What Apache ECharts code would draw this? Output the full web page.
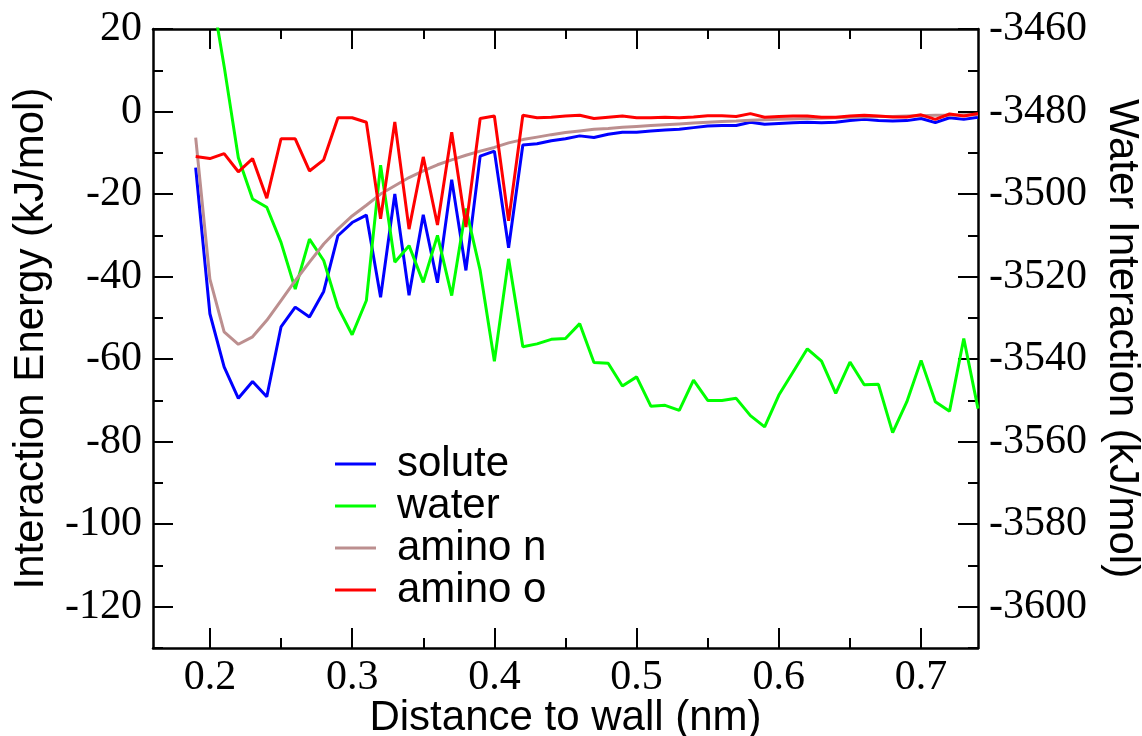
<!DOCTYPE html>
<html>
<head>
<meta charset="utf-8">
<script src="https://cdn.jsdelivr.net/npm/echarts@6/dist/echarts.min.js"></script>
<style>html,body{margin:0;padding:0;background:#fff;}#c{width:1142px;height:736px;}</style>
</head>
<body>
<div id="c"></div>
<script>
const distance = [0.19,0.20,0.21,0.22,0.23,0.24,0.25,0.26,0.27,0.28,0.29,0.30,0.31,0.32,0.33,0.34,0.35,0.36,0.37,0.38,0.39,0.40,0.41,0.42,0.43,0.44,0.45,0.46,0.47,0.48,0.49,0.50,0.51,0.52,0.53,0.54,0.55,0.56,0.57,0.58,0.59,0.60,0.61,0.62,0.63,0.64,0.65,0.66,0.67,0.68,0.69,0.70,0.71,0.72,0.73,0.74];
const solute = [-13.6,-49,-61.9,-69.5,-65.4,-69.1,-52.2,-47.4,-49.8,-43.6,-30.1,-26.9,-25.1,-45,-20,-44.5,-25,-41.5,-16.5,-38.5,-10.8,-9.6,-33,-8.1,-7.8,-7.1,-6.6,-5.9,-6.3,-5.5,-5.0,-5.0,-4.7,-4.5,-4.3,-3.9,-3.5,-3.4,-3.4,-2.6,-3.1,-2.9,-2.7,-2.6,-2.7,-2.6,-2.2,-1.9,-2.2,-2.3,-2.2,-1.7,-2.7,-1.5,-1.9,-1.4];
const water = [-3405,-3448.5,-3469,-3491.2,-3501.2,-3503.2,-3511.7,-3523,-3510.9,-3516.1,-3527.4,-3534.1,-3525.8,-3493,-3516.5,-3512.5,-3521.4,-3510,-3524.6,-3503.5,-3518.5,-3540.5,-3515.7,-3537,-3536.3,-3535.2,-3535,-3531.4,-3540.8,-3541,-3546.5,-3544.3,-3551.4,-3551.2,-3552.4,-3545.1,-3550,-3550,-3549.5,-3553.7,-3556.4,-3548.7,-3543.1,-3537.5,-3540.5,-3548.3,-3540.7,-3546.2,-3546.1,-3557.8,-3550.3,-3540.3,-3550.3,-3552.6,-3535,-3552];
const aminoN = [-6.3,-40.6,-53.4,-56.4,-54.6,-50.6,-45.8,-41.0,-36.5,-32.1,-28.5,-25.3,-22.7,-20,-18,-16,-14.4,-12.9,-11.7,-10.6,-9.6,-8.7,-7.6,-6.8,-6.2,-5.6,-5.1,-4.7,-4.3,-4.1,-3.8,-3.6,-3.4,-3.2,-3.0,-2.8,-2.6,-2.4,-2.3,-2.1,-2.0,-1.9,-1.8,-1.7,-1.6,-1.5,-1.4,-1.3,-1.2,-1.2,-1.1,-1.0,-0.9,-0.9,-0.8,-0.8];
const aminoO = [-10.9,-11.4,-10.2,-14.6,-11.4,-21,-6.6,-6.6,-14.4,-11.7,-1.5,-1.5,-2.6,-26,-2.5,-28.5,-11,-27.5,-5,-28,-1.7,-1.1,-26.5,-0.9,-1.5,-1.4,-1.1,-0.9,-1.7,-1.4,-1.1,-1.5,-1.5,-1.4,-1.5,-1.3,-1.0,-1.0,-1.2,-0.5,-1.4,-1.2,-1.1,-1.1,-1.4,-1.4,-1.1,-0.9,-1.1,-1.3,-1.3,-0.8,-1.9,-0.6,-1.1,-0.5];

const xMajor = [0.2,0.3,0.4,0.5,0.6,0.7];
const xMinor = [0.25,0.35,0.45,0.55,0.65];
const yLeftMajor = [-120,-100,-80,-60,-40,-20,0,20];
const yLeftMinor = [-130,-110,-90,-70,-50,-30,-10,10];
const yRightMajor = [-3600,-3580,-3560,-3540,-3520,-3500,-3480,-3460];
const yRightMinor = [-3610,-3590,-3570,-3550,-3530,-3510,-3490,-3470];

const names = ['solute','water','amino n','amino o'];
const colors = ['#0000ff','#00ff00','#bc8f8f','#ff0000'];

const serif = "'Liberation Serif', 'Times New Roman', serif";
const sans = "'Liberation Sans', Arial, sans-serif";
const lineStyle = {color:'#000', width:2.5};
const fmt = v => String(v);

function xAx(pos, ticks, len, showLine, labels, extra){
  return Object.assign({
    type:'value', position:pos, min:0.16, max:0.74,
    axisLine:{show:showLine, onZero:false, lineStyle},
    axisTick:{show:true, inside:true, length:len, customValues:ticks, lineStyle:{color:'#000', width:2}},
    axisLabel:{show:labels, customValues:ticks, formatter:fmt, fontFamily:serif, fontSize:42, color:'#000', margin:9},
    splitLine:{show:false}
  }, extra||{});
}
function yAx(pos, min, max, ticks, len, showLine, labels, extra){
  return Object.assign({
    type:'value', position:pos, min:min, max:max,
    axisLine:{show:showLine, onZero:false, lineStyle},
    axisTick:{show:true, inside:true, length:len, customValues:ticks, lineStyle:{color:'#000', width:2}},
    axisLabel:{show:labels, customValues:ticks, formatter:fmt, fontFamily:serif, fontSize:42, color:'#000', margin:11},
    splitLine:{show:false}
  }, extra||{});
}

const chart = echarts.init(document.getElementById('c'), null, {renderer:'canvas'});
chart.setOption({
  animation:false,
  backgroundColor:'#fff',
  grid:{left:153, right:164, top:29, bottom:88, containLabel:false, outerBoundsMode:'none'},
  legend:{
    orient:'vertical', left:330, top:438, itemGap:0, itemWidth:41, itemHeight:3, icon:'rect',
    data:names,
    textStyle:{fontFamily:sans, fontSize:42, color:'#000', lineHeight:42, padding:[0,0,0,16]}
  },
  xAxis:[
    xAx('bottom', xMajor, 20, true, true, {name:'Distance to wall (nm)', nameLocation:'middle', nameGap:49, nameMoveOverlap:false,
      nameTextStyle:{fontFamily:sans, fontSize:42, color:'#000'}}),
    xAx('bottom', xMinor, 10, false, false),
    xAx('top', xMajor, 20, true, false),
    xAx('top', xMinor, 10, false, false)
  ],
  yAxis:[
    yAx('left', -130, 20, yLeftMajor, 20, true, true, {name:'Interaction Energy (kJ/mol)', nameLocation:'middle', nameGap:101, nameMoveOverlap:false,
      nameTextStyle:{fontFamily:sans, fontSize:42, color:'#000'}}),
    yAx('right', -3610, -3460, yRightMajor, 20, true, true, {name:'Water Interaction (kJ/mol)', nameLocation:'middle', nameGap:123, nameRotate:-90, nameMoveOverlap:false,
      nameTextStyle:{fontFamily:sans, fontSize:42, color:'#000'}}),
    yAx('left', -130, 20, yLeftMinor, 10, false, false),
    yAx('right', -3610, -3460, yRightMinor, 10, false, false)
  ],
  series:[
    {name:names[0], type:'line', xAxisIndex:0, yAxisIndex:0, data:distance.map((d,i)=>[d,solute[i]]), showSymbol:false, clip:true, lineStyle:{width:3, color:colors[0]}, itemStyle:{color:colors[0]}},
    {name:names[1], type:'line', xAxisIndex:0, yAxisIndex:1, data:distance.map((d,i)=>[d,water[i]]), showSymbol:false, clip:true, lineStyle:{width:3, color:colors[1]}, itemStyle:{color:colors[1]}},
    {name:names[2], type:'line', xAxisIndex:0, yAxisIndex:0, data:distance.map((d,i)=>[d,aminoN[i]]), showSymbol:false, clip:true, lineStyle:{width:3, color:colors[2]}, itemStyle:{color:colors[2]}},
    {name:names[3], type:'line', xAxisIndex:0, yAxisIndex:0, data:distance.map((d,i)=>[d,aminoO[i]]), showSymbol:false, clip:true, lineStyle:{width:3, color:colors[3]}, itemStyle:{color:colors[3]}}
  ]
});
</script>
</body>
</html>
